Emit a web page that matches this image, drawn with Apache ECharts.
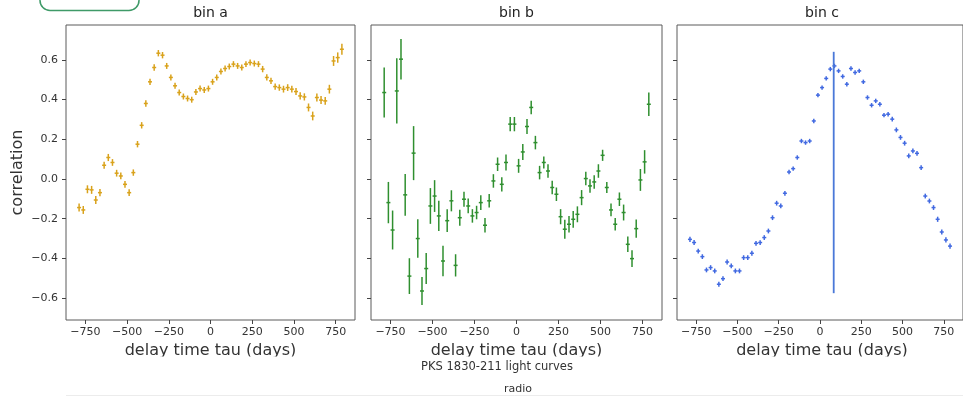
<!DOCTYPE html>
<html>
<head>
<meta charset="utf-8">
<title>PKS 1830-211 light curves</title>
<script src="https://cdn.jsdelivr.net/npm/echarts@6/dist/echarts.min.js"></script>
<style>
  html, body { margin: 0; padding: 0; background: #fff; }
  #chart { width: 963px; height: 397px; }
</style>
</head>
<body>
<div id="chart"></div>
<script>
// delay time tau (days), same for all three bins
var tau = [-787.5, -762.5, -737.5, -712.5, -687.5, -662.5, -637.5, -612.5, -587.5, -562.5,
  -537.5, -512.5, -487.5, -462.5, -437.5, -412.5, -387.5, -362.5, -337.5, -312.5,
  -287.5, -262.5, -237.5, -212.5, -187.5, -162.5, -137.5, -112.5, -87.5, -62.5,
  -37.5, -12.5, 12.5, 37.5, 62.5, 87.5, 112.5, 137.5, 162.5, 187.5,
  212.5, 237.5, 262.5, 287.5, 312.5, 337.5, 362.5, 387.5, 412.5, 437.5,
  462.5, 487.5, 512.5, 537.5, 562.5, 587.5, 612.5, 637.5, 662.5, 687.5,
  712.5, 737.5, 762.5, 787.5];

// bin a
var corrA = [-0.144, -0.156, -0.052, -0.055, -0.106, -0.069, 0.069, 0.108, 0.083, 0.029,
  0.015, -0.027, -0.069, 0.032, 0.175, 0.27, 0.38, 0.489, 0.561, 0.633,
  0.623, 0.569, 0.511, 0.469, 0.435, 0.415, 0.405, 0.399, 0.438, 0.455,
  0.448, 0.455, 0.489, 0.511, 0.541, 0.556, 0.566, 0.578, 0.569, 0.561,
  0.578, 0.586, 0.581, 0.578, 0.553, 0.511, 0.494, 0.465, 0.46, 0.452,
  0.46, 0.452, 0.44, 0.418, 0.413, 0.36, 0.317, 0.41, 0.397, 0.393,
  0.452, 0.594, 0.611, 0.653];
var errA = [0.02, 0.02, 0.02, 0.02, 0.02, 0.018, 0.018, 0.018, 0.017, 0.017,
  0.017, 0.017, 0.017, 0.016, 0.016, 0.016, 0.016, 0.016, 0.016, 0.016,
  0.016, 0.015, 0.015, 0.015, 0.015, 0.015, 0.015, 0.015, 0.015, 0.015,
  0.015, 0.015, 0.015, 0.015, 0.015, 0.015, 0.015, 0.015, 0.015, 0.015,
  0.015, 0.015, 0.015, 0.015, 0.016, 0.016, 0.016, 0.016, 0.016, 0.017,
  0.017, 0.017, 0.018, 0.018, 0.018, 0.02, 0.022, 0.02, 0.02, 0.02,
  0.022, 0.025, 0.026, 0.028];

// bin b
var corrB = [0.435, -0.119, -0.257, 0.443, 0.603, -0.08, -0.489, 0.13, -0.30, -0.564,
  -0.451, -0.136, -0.086, -0.186, -0.413, -0.21, -0.11, -0.435, -0.195, -0.102,
  -0.136, -0.186, -0.169, -0.119, -0.233, -0.11, -0.01, 0.074, -0.027, 0.083,
  0.276, 0.276, 0.066, 0.136, 0.264, 0.36, 0.183, 0.032, 0.083, 0.04,
  -0.043, -0.077, -0.19, -0.253, -0.228, -0.203, -0.178, -0.094, 0.002, -0.035,
  -0.015, 0.04, 0.119, -0.043, -0.156, -0.228, -0.102, -0.169, -0.329, -0.401,
  -0.25, -0.005, 0.086, 0.376];
var errB = [0.126, 0.104, 0.098, 0.164, 0.102, 0.105, 0.09, 0.136, 0.097, 0.071,
  0.078, 0.09, 0.08, 0.076, 0.077, 0.057, 0.053, 0.056, 0.04, 0.038,
  0.037, 0.034, 0.034, 0.037, 0.036, 0.034, 0.034, 0.034, 0.036, 0.04,
  0.036, 0.036, 0.035, 0.04, 0.038, 0.034, 0.034, 0.034, 0.03, 0.034,
  0.034, 0.034, 0.038, 0.048, 0.042, 0.042, 0.04, 0.038, 0.034, 0.034,
  0.034, 0.034, 0.028, 0.028, 0.032, 0.031, 0.034, 0.04, 0.039, 0.042,
  0.046, 0.055, 0.059, 0.059];

// bin c
var corrC = [-0.304, -0.32, -0.363, -0.391, -0.458, -0.446, -0.463, -0.53, -0.502, -0.418,
  -0.438, -0.463, -0.463, -0.396, -0.396, -0.374, -0.324, -0.32, -0.295, -0.262,
  -0.195, -0.122, -0.136, -0.072, 0.035, 0.052, 0.108, 0.191, 0.183, 0.191,
  0.292, 0.422, 0.46, 0.506, 0.553, 0.569, 0.544, 0.516, 0.477, 0.556,
  0.536, 0.544, 0.489, 0.41, 0.371, 0.393, 0.376, 0.321, 0.326, 0.301,
  0.247, 0.209, 0.18, 0.116, 0.141, 0.129, 0.057, -0.086, -0.111, -0.144,
  -0.203, -0.267, -0.307, -0.338];
var errC = [0.013, 0.013, 0.012, 0.012, 0.012, 0.012, 0.012, 0.012, 0.012, 0.012,
  0.012, 0.012, 0.012, 0.012, 0.012, 0.012, 0.012, 0.012, 0.012, 0.012,
  0.012, 0.012, 0.012, 0.012, 0.011, 0.011, 0.011, 0.011, 0.011, 0.011,
  0.011, 0.011, 0.011, 0.011, 0.011, 0.011, 0.011, 0.011, 0.011, 0.011,
  0.011, 0.011, 0.011, 0.011, 0.011, 0.011, 0.011, 0.011, 0.011, 0.012,
  0.012, 0.012, 0.012, 0.012, 0.012, 0.012, 0.012, 0.012, 0.012, 0.012,
  0.013, 0.013, 0.013, 0.013];

// vertical marker in bin c
var peakTau = 83;
var peakRange = [-0.575, 0.64];

var xTicks = [-750, -500, -250, 0, 250, 500, 750];
var yTicks = [-0.6, -0.4, -0.2, 0.0, 0.2, 0.4, 0.6];
var titles = ['bin a', 'bin b', 'bin c'];

var FONT = 'DejaVu Sans';
var myChart = echarts.init(document.getElementById('chart'));

var grids = [
  { left: 66, top: 25, width: 289, height: 295 },
  { left: 371, top: 25, width: 291, height: 295 },
  { left: 677, top: 25, width: 290, height: 295 }
];

function minus(s) { return String(s).replace('-', '\u2212'); }

function errRender(color) {
  return function (params, api) {
    var x = api.value(0), y = api.value(1), e = api.value(2);
    var hi = api.coord([x, y + e]);
    var lo = api.coord([x, y - e]);
    var mid = api.coord([x, y]);
    return {
      type: 'group',
      children: [
        { type: 'line', shape: { x1: hi[0], y1: hi[1], x2: lo[0], y2: lo[1] },
          style: { stroke: color, lineWidth: 1.5 } },
        { type: 'line', shape: { x1: mid[0] - 2, y1: mid[1], x2: mid[0] + 2, y2: mid[1] },
          style: { stroke: color, lineWidth: 1.5 } }
      ]
    };
  };
}

var colors = ['#d9a21b', '#2f8f2f', '#4169e1'];
var corr = [corrA, corrB, corrC];
var errs = [errA, errB, errC];

var option = {
  animation: false,
  backgroundColor: '#fff',
  textStyle: { fontFamily: FONT },
  grid: grids.map(function (g) {
    return Object.assign({ show: true, borderColor: '#5a5a5a', borderWidth: 1, backgroundColor: 'transparent' }, g);
  }),
  xAxis: grids.map(function (g, k) {
    return {
      type: 'value', gridIndex: k, min: -866, max: 866, position: 'bottom',
      axisLine: { show: false, onZero: false },
      splitLine: { show: false },
      axisTick: { show: true, customValues: xTicks, length: 4, lineStyle: { color: '#444' } },
      axisLabel: { customValues: xTicks, color: '#333', fontSize: 11, fontFamily: FONT, margin: 7,
        formatter: function (v) { return minus(v); } }
    };
  }),
  yAxis: grids.map(function (g, k) {
    return {
      type: 'value', gridIndex: k, min: -0.71, max: 0.775, position: 'left',
      axisLine: { show: false, onZero: false },
      splitLine: { show: false },
      axisTick: { show: true, customValues: yTicks, length: 4, lineStyle: { color: '#444' } },
      axisLabel: { show: k === 0, customValues: yTicks, color: '#333', fontSize: 11, fontFamily: FONT, margin: 8,
        formatter: function (v) { return minus(Number(v).toFixed(1)); } }
    };
  }),
  series: [0, 1, 2].map(function (k) {
    return {
      type: 'custom', xAxisIndex: k, yAxisIndex: k, clip: true,
      renderItem: errRender(colors[k]),
      encode: { x: 0, y: 1 },
      data: tau.map(function (t, i) { return [t, corr[k][i], errs[k][i]]; })
    };
  }).concat([{
    type: 'line', xAxisIndex: 2, yAxisIndex: 2, symbol: 'none',
    lineStyle: { color: '#4a78d8', width: 1.8 },
    data: [[peakTau, peakRange[0]], [peakTau, peakRange[1]]]
  }]),
  graphic: [
    { type: 'rect', shape: { x: 40, y: -12, width: 99, height: 22.5, r: 10 },
      style: { fill: 'none', stroke: '#3f9a68', lineWidth: 1.5 } },
    { type: 'line', shape: { x1: 66, y1: 395.5, x2: 963, y2: 395.5 },
      style: { stroke: '#ececec', lineWidth: 1 } }
  ].concat(grids.map(function (g, k) {
    return { type: 'text', x: g.left + g.width / 2, y: 13,
      style: { text: titles[k], font: '14px "DejaVu Sans"', fill: '#222', textAlign: 'center', textVerticalAlign: 'middle' } };
  })).concat(grids.map(function (g) {
    return { type: 'text', x: g.left + g.width / 2, y: 351, z: 1,
      style: { text: 'delay time tau (days)', font: '16px "DejaVu Sans"', fill: '#333', textAlign: 'center', textVerticalAlign: 'middle' } };
  })).concat([
    { type: 'rect', z: 50, shape: { x: 0, y: 356.5, width: 963, height: 4.5 }, style: { fill: '#fff' } },
    { type: 'text', x: 18, y: 172.5, rotation: Math.PI / 2,
      style: { text: 'correlation', font: '16px "DejaVu Sans"', fill: '#333', textAlign: 'center', textVerticalAlign: 'middle' } },
    { type: 'text', x: 497, y: 367, z: 60,
      style: { text: 'PKS 1830-211 light curves', font: '11.5px "DejaVu Sans"', fill: '#333', textAlign: 'center', textVerticalAlign: 'middle' } },
    { type: 'text', x: 518, y: 389,
      style: { text: 'radio', font: '11px "DejaVu Sans"', fill: '#333', textAlign: 'center', textVerticalAlign: 'middle' } }
  ])
};

myChart.setOption(option);

window.onresize = function () {
  myChart.resize();
};
</script>
</body>
</html>
